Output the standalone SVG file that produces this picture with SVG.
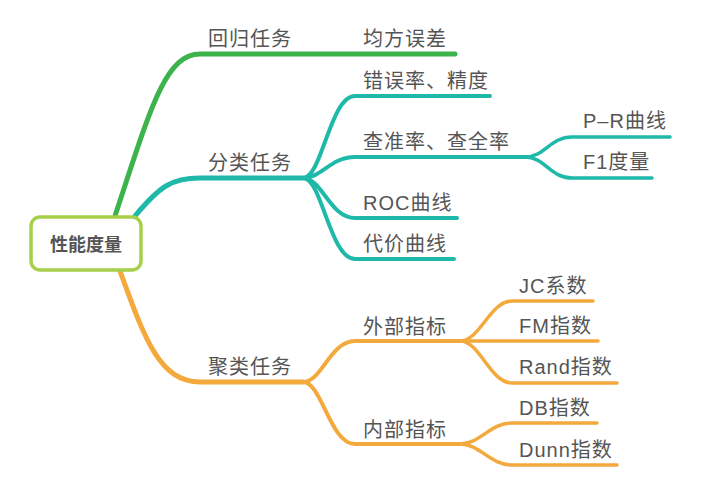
<svg xmlns="http://www.w3.org/2000/svg" width="720" height="494" viewBox="0 0 720 494">
<style>
.t{font-family:"Liberation Sans","Noto Sans CJK SC",sans-serif;font-size:20px;fill:#555;letter-spacing:1px}
.g{stroke:#3cb44b}
.c{stroke:#1fb9aa}
.o{stroke:#f4a93c}
path{fill:none;stroke-linecap:round}
.l1{stroke-width:5}
.l2{stroke-width:4}
.l3{stroke-width:3.5}
</style>
<rect width="720" height="494" fill="#fff"/>
<g id="connectors">
<path class="g l1" d="M115,216 C150,110 165,54 200,54 H455"/>
<path class="c l1" d="M135,216 C160,186 172,178 200,178 H303"/>
<path class="o l1" d="M120,271 C145,340 160,382 200,382 H303"/>
<path class="c l2" d="M303,178 C322,178 330,96 355,96 H490"/>
<path class="c l2" d="M303,178 C322,178 330,157 355,157 H525"/>
<path class="c l2" d="M303,178 C322,178 330,218 355,218 H457"/>
<path class="c l2" d="M303,178 C322,178 330,259 355,259 H454"/>
<path class="c l3" d="M525,157 C545,157 550,137 572,137 H670"/>
<path class="c l3" d="M525,157 C545,157 550,178 572,178 H652"/>
<path class="o l2" d="M303,382 C322,382 330,341 355,341 H460"/>
<path class="o l2" d="M303,382 C322,382 330,444 355,444 H460"/>
<path class="o l3" d="M460,341 C480,341 490,301 512,301 H593"/>
<path class="o l3" d="M460,341 H598"/>
<path class="o l3" d="M460,341 C480,341 490,383 512,383 H617"/>
<path class="o l3" d="M460,444 C480,444 490,423 512,423 H597"/>
<path class="o l3" d="M460,444 C480,444 490,465 512,465 H617"/>
</g>
<g id="root">
<rect x="31" y="217" width="110" height="53" rx="9" fill="#fff" stroke="#a6cf4a" stroke-width="3.5"/>
<text x="86" y="251" text-anchor="middle" font-family="Liberation Sans,Noto Sans CJK SC,sans-serif" font-size="18" font-weight="bold" fill="#555">性能度量</text>
</g>
<g id="n-regress"><text class="t" x="208" y="46">回归任务</text></g>
<g id="n-mse"><text class="t" x="363" y="46">均方误差</text></g>
<g id="n-classify"><text class="t" x="208" y="170">分类任务</text></g>
<g id="n-err"><text class="t" x="363" y="88">错误率、精度</text></g>
<g id="n-pr"><text class="t" x="363" y="149">查准率、查全率</text></g>
<g id="n-prcurve"><text class="t" x="583" y="128">P–R曲线</text></g>
<g id="n-f1"><text class="t" x="583" y="169">F1度量</text></g>
<g id="n-roc"><text class="t" x="363" y="210">ROC曲线</text></g>
<g id="n-cost"><text class="t" x="363" y="251">代价曲线</text></g>
<g id="n-cluster"><text class="t" x="208" y="374">聚类任务</text></g>
<g id="n-ext"><text class="t" x="363" y="334">外部指标</text></g>
<g id="n-int"><text class="t" x="363" y="437">内部指标</text></g>
<g id="n-jc"><text class="t" x="519" y="293">JC系数</text></g>
<g id="n-fm"><text class="t" x="519" y="333">FM指数</text></g>
<g id="n-rand"><text class="t" x="519" y="374">Rand指数</text></g>
<g id="n-db"><text class="t" x="519" y="415">DB指数</text></g>
<g id="n-dunn"><text class="t" x="519" y="457">Dunn指数</text></g>
</svg>
